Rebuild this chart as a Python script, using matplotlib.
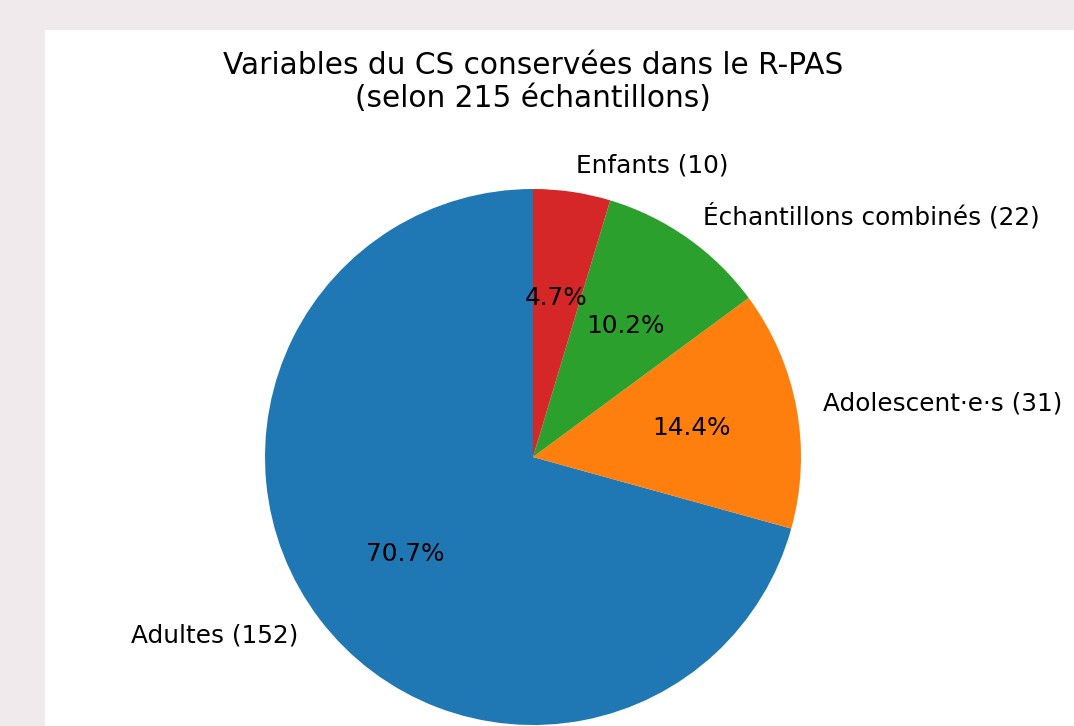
import matplotlib.pyplot as plt
from matplotlib.patches import Rectangle

# data
labels = ["Adultes", "Adolescent·e·s", "Échantillons combinés", "Enfants"]
counts = [152, 31, 22, 10]
colors = ["#1f77b4", "#ff7f0e", "#2ca02c", "#d62728"]

W, H = 1074, 726
scale = 1.78  # the screenshot is an upscaled default-style figure

fig = plt.figure(figsize=(W / 100, H / 100), dpi=100, facecolor="#f0eaec")

# white figure area of the screenshot
fig.add_artist(Rectangle((45 / W, 0), 1 - 45 / W, (H - 30) / H,
                         transform=fig.transFigure, facecolor="white",
                         edgecolor="none", zorder=0))

# pie centre at (533, 457) px, radius 268 px, limits +-1.25
cx, cy, r = 533, 457, 268
half = 1.25 * r
ax = fig.add_axes([(cx - half) / W, (H - cy - half) / H, 2 * half / W, 2 * half / H])

pie_labels = [f"{name} ({n})" for name, n in zip(labels, counts)]
ax.pie(counts, labels=pie_labels, colors=colors, autopct="%1.1f%%",
       startangle=90, textprops={"fontsize": 10 * scale})
ax.set_xlim(-1.25, 1.25)
ax.set_ylim(-1.25, 1.25)
ax.set_title("Variables du CS conservées dans le R-PAS\n(selon 215 échantillons)",
             fontsize=12 * scale, pad=6 * scale)

fig.savefig("out.png", dpi=100, facecolor=fig.get_facecolor())
